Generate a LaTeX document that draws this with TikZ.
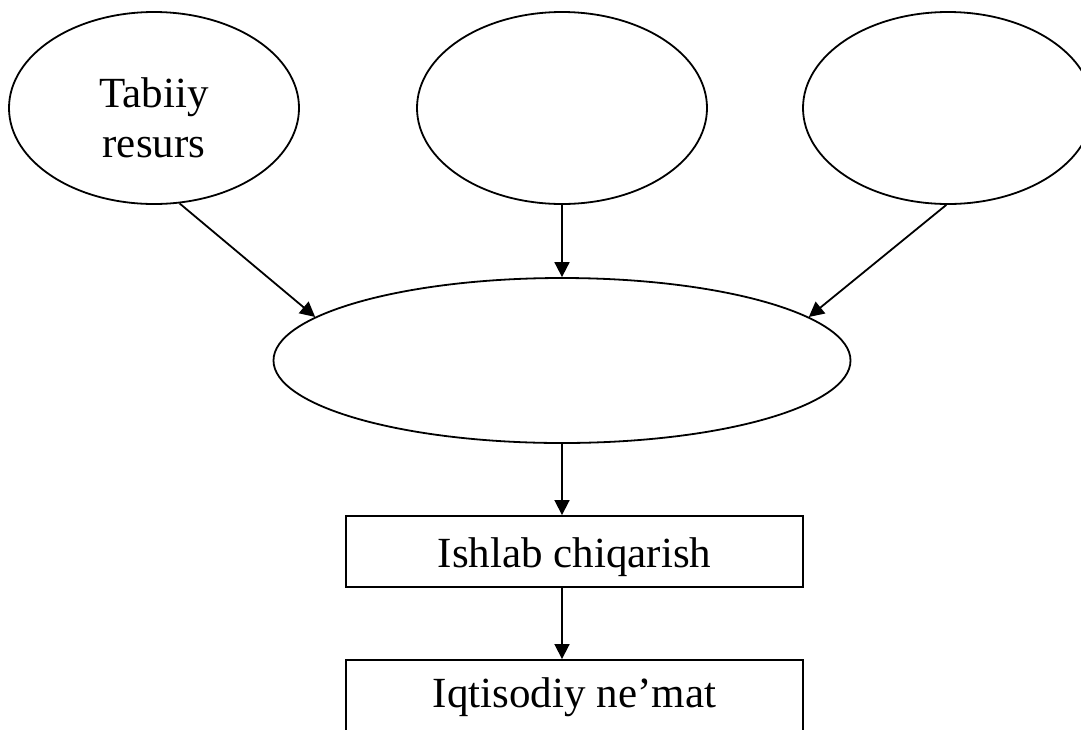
\documentclass[tikz,border=0pt]{standalone}
\usepackage{fontspec}
\setmainfont{Liberation Serif}
\usetikzlibrary{shapes.geometric,arrows.meta}
\begin{document}
\begin{tikzpicture}[x=1pt,y=-1pt,
  every node/.style={font=\fontsize{43pt}{50pt}\selectfont},
  oval/.style={draw,ellipse,line width=1.8pt,inner sep=0pt,minimum width=290pt,minimum height=192pt},
  bigoval/.style={draw,ellipse,line width=1.8pt,inner sep=0pt,minimum width=577pt,minimum height=165pt},
  boxnode/.style={draw,rectangle,line width=1.9pt,inner sep=0pt,minimum width=457pt,text depth=0pt},
  conn/.style={line width=1.8pt,-{Triangle[length=15pt,width=15pt]}}]
\useasboundingbox (0,0) rectangle (1081,729);
\node[oval,label={[yshift=-10pt,align=center,font=\fontsize{43pt}{50pt}\selectfont]center:Tabiiy\\resurs}] (e1) at (154,108) {};
\node[oval] (e2) at (562,108) {};
\node[oval] (e3) at (948,108) {};
\node[bigoval] (big) at (562,360.5) {};
\node[boxnode,minimum height=71pt,text height=32pt] (box1) at (574.5,551.5) {Ishlab chiqarish};
\node[boxnode,minimum height=74pt,text height=21pt] (box2) at (574.5,697) {Iqtisodiy ne’mat};
\draw[conn] (e1.-75) -- (big.170.5);
\draw[conn] (e2.south) -- (big.north);
\draw[conn] (e3.-91) -- (big.10.5);
\draw[conn] (big.south) -- (big.south |- box1.north);
\draw[conn] (box1.south -| big.south) -- (box2.north -| big.south);
\end{tikzpicture}
\end{document}
